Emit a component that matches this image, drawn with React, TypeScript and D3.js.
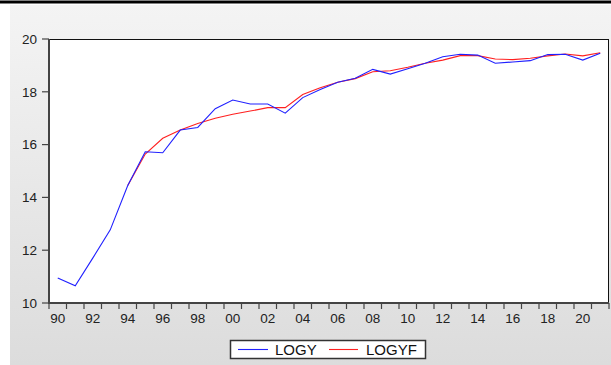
import React from "react";
import * as d3 from "d3";

const years: number[] = d3.range(1990, 2022);

const logy: number[] = [
  10.95, 10.65, 11.7, 12.77, 14.45, 15.73, 15.69, 16.55, 16.65, 17.36,
  17.69, 17.54, 17.54, 17.19, 17.78, 18.09, 18.36, 18.51, 18.85, 18.67,
  18.87, 19.08, 19.33, 19.42, 19.39, 19.08, 19.13, 19.18, 19.41, 19.42,
  19.2, 19.46,
];

// Fitted series begins in 1994
const logyfYears: number[] = d3.range(1994, 2022);
const logyf: number[] = [
  14.45, 15.64, 16.24, 16.55, 16.8, 17.0, 17.15, 17.27, 17.4, 17.4,
  17.9, 18.15, 18.36, 18.5, 18.76, 18.8, 18.93, 19.08, 19.2, 19.37,
  19.37, 19.24, 19.22, 19.27, 19.36, 19.43, 19.36, 19.48,
];

const yTicks: number[] = [10, 12, 14, 16, 18, 20];
const xLabelYears: number[] = d3.range(1990, 2022, 2);

const W = 611;
const H = 365;
const left = 49;
const right = 609;
const top = 39;
const bottom = 303;
const font = "'Liberation Sans', Arial, sans-serif";

export default function App() {
  const x = d3
    .scaleBand<number>()
    .domain(years)
    .range([left, right])
    .paddingInner(0)
    .paddingOuter(0);
  const cx = (yr: number) => (x(yr) as number) + x.bandwidth() / 2;
  const y = d3.scaleLinear().domain([10, 20]).range([bottom, top]);

  const line = d3
    .line<[number, number]>()
    .x((d) => cx(d[0]))
    .y((d) => y(d[1]));

  const blue = line(years.map((yr, i) => [yr, logy[i]] as [number, number]));
  const red = line(
    logyfYears.map((yr, i) => [yr, logyf[i]] as [number, number])
  );

  const boundaries = [...years.map((yr) => x(yr) as number), right];

  return (
    <svg
      width={W}
      height={H}
      style={{ position: "absolute", left: 0, top: 0 }}
      fontFamily={font}
    >
      <defs>
        <linearGradient id="bg" x1="0" y1="0" x2="0" y2="1">
          <stop offset="0" stopColor="#f4f4f4" />
          <stop offset="1" stopColor="#dcdcdc" />
        </linearGradient>
      </defs>
      <rect x={0} y={0} width={W} height={H} fill="#ffffff" />
      <rect x={10} y={5} width={W - 10} height={H - 5} fill="url(#bg)" />
      <rect x={0} y={0.5} width={W} height={3} fill="#000" />

      {/* plot area */}
      <rect x={left} y={top} width={right - left} height={bottom - top} fill="#fff" />
      <line x1={left} y1={top + 0.5} x2={right} y2={top + 0.5} stroke="#111" strokeWidth={1} />
      <line x1={right - 0.5} y1={top} x2={right - 0.5} y2={bottom} stroke="#111" strokeWidth={1} />

      {/* y axis */}
      <line x1={left} y1={top} x2={left} y2={bottom + 1} stroke="#444" strokeWidth={2} />
      {yTicks.map((t) => (
        <g key={t}>
          <line x1={left - 7} x2={left} y1={y(t)} y2={y(t)} stroke="#444" strokeWidth={1.2} />
          <text
            x={left - 12}
            y={y(t)}
            dy="0.36em"
            textAnchor="end"
            fontSize={13.5}
            fill="#222"
          >
            {t}
          </text>
        </g>
      ))}

      {/* x axis */}
      <line x1={left - 1} y1={bottom} x2={right} y2={bottom} stroke="#444" strokeWidth={2} />
      {boundaries.map((bx, i) => (
        <line
          key={i}
          x1={bx}
          x2={bx}
          y1={bottom}
          y2={bottom + 6}
          stroke="#444"
          strokeWidth={1.2}
        />
      ))}
      {xLabelYears.map((yr) => (
        <text
          key={yr}
          x={cx(yr)}
          y={323}
          textAnchor="middle"
          fontSize={13.5}
          fill="#222"
        >
          {String(yr % 100).padStart(2, "0")}
        </text>
      ))}

      {/* series */}
      <path d={red ?? ""} fill="none" stroke="#ff2020" strokeWidth={1.1} />
      <path d={blue ?? ""} fill="none" stroke="#2020ff" strokeWidth={1.1} />

      {/* legend */}
      <rect x={230.5} y={340.5} width={195} height={18} fill="#fff" stroke="#333" strokeWidth={1.5} />
      <line x1={238} x2={268} y1={349.5} y2={349.5} stroke="#2020ff" strokeWidth={1.1} />
      <text x={275} y={355} fontSize={15} fill="#111">
        LOGY
      </text>
      <line x1={329} x2={358} y1={349.5} y2={349.5} stroke="#ff2020" strokeWidth={1.1} />
      <text x={366} y={355} fontSize={15} fill="#111">
        LOGYF
      </text>
    </svg>
  );
}
